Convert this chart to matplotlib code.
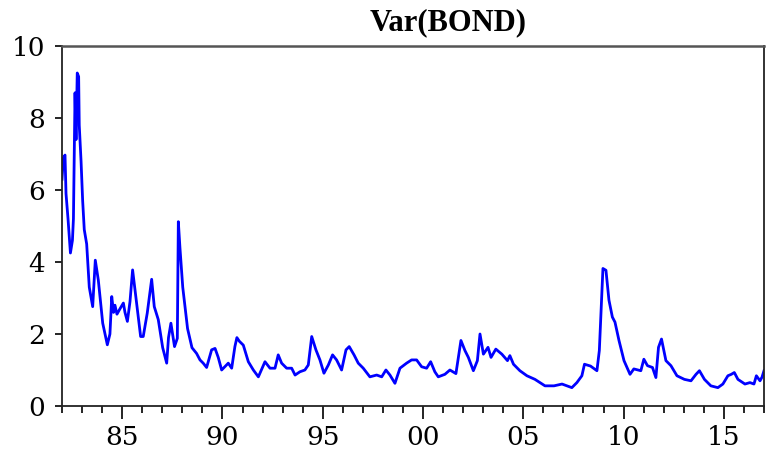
import matplotlib
matplotlib.use("Agg")
import matplotlib.pyplot as plt
from matplotlib.ticker import MultipleLocator, FixedLocator

title = "Var(BOND)"

years = [
    1982.00, 1982.07, 1982.15, 1982.20, 1982.30, 1982.42, 1982.52, 1982.57, 1982.65, 1982.70,
    1982.76, 1982.83, 1982.86, 1982.95, 1983.03, 1983.11, 1983.23, 1983.36, 1983.53, 1983.66,
    1983.81, 1984.03, 1984.26, 1984.39, 1984.48, 1984.57, 1984.64, 1984.74, 1984.89, 1985.06,
    1985.14, 1985.26, 1985.39, 1985.52, 1985.69, 1985.92, 1986.05, 1986.25, 1986.47, 1986.60,
    1986.80, 1987.02, 1987.22, 1987.31, 1987.43, 1987.61, 1987.75, 1987.80, 1987.88, 1988.02,
    1988.26, 1988.48, 1988.71, 1988.88, 1989.04, 1989.21, 1989.46, 1989.63, 1989.79, 1989.96,
    1990.29, 1990.46, 1990.62, 1990.72, 1990.84, 1991.04, 1991.29, 1991.54, 1991.79, 1992.12,
    1992.37, 1992.62, 1992.78, 1992.95, 1993.20, 1993.45, 1993.62, 1993.86, 1994.11, 1994.28,
    1994.45, 1994.66, 1994.86, 1995.06, 1995.28, 1995.49, 1995.69, 1995.94, 1996.16, 1996.32,
    1996.56, 1996.77, 1997.02, 1997.35, 1997.69, 1997.94, 1998.15, 1998.35, 1998.60, 1998.85,
    1999.18, 1999.43, 1999.68, 1999.93, 2000.18, 2000.38, 2000.59, 2000.76, 2001.09, 2001.34,
    2001.64, 2001.89, 2002.09, 2002.26, 2002.51, 2002.71, 2002.84, 2003.01, 2003.24, 2003.39,
    2003.63, 2003.93, 2004.21, 2004.33, 2004.51, 2004.83, 2005.18, 2005.58, 2006.08, 2006.53,
    2006.93, 2007.42, 2007.67, 2007.92, 2008.05, 2008.35, 2008.67, 2008.79, 2008.97, 2009.12,
    2009.27, 2009.44, 2009.57, 2009.77, 2010.02, 2010.32, 2010.51, 2010.86, 2011.01, 2011.19,
    2011.44, 2011.61, 2011.74, 2011.89, 2012.11, 2012.36, 2012.66, 2013.03, 2013.36, 2013.61,
    2013.78, 2014.03, 2014.35, 2014.70, 2014.95, 2015.20, 2015.37, 2015.52, 2015.70, 2016.05,
    2016.30, 2016.50, 2016.62, 2016.80, 2016.90, 2017.00,
]

var_bond = [
    6.3, 6.9, 6.97, 5.9, 5.2, 4.25, 4.6, 5.2, 8.7, 7.4,
    9.25, 9.15, 7.8, 6.8, 5.7, 4.9, 4.5, 3.3, 2.76, 4.05,
    3.5, 2.3, 1.7, 2.0, 3.04, 2.6, 2.8, 2.55, 2.7, 2.86,
    2.6, 2.35, 2.9, 3.78, 3.0, 1.93, 1.93, 2.58, 3.52, 2.76,
    2.4, 1.62, 1.19, 1.9, 2.3, 1.65, 1.88, 5.12, 4.4, 3.3,
    2.15, 1.62, 1.46, 1.28, 1.19, 1.07, 1.56, 1.6, 1.35, 1.0,
    1.19, 1.05, 1.65, 1.9, 1.8, 1.69, 1.23, 1.0, 0.81, 1.23,
    1.05, 1.05, 1.42, 1.19, 1.05, 1.05, 0.86, 0.95, 1.0, 1.14,
    1.93, 1.56, 1.28, 0.91, 1.14, 1.42, 1.28, 1.0, 1.56, 1.65,
    1.42, 1.19, 1.05, 0.81, 0.86, 0.81, 1.0, 0.86, 0.63, 1.05,
    1.19, 1.28, 1.28, 1.09, 1.05, 1.23, 0.95, 0.81, 0.88, 1.0,
    0.9, 1.82, 1.54, 1.35, 0.98, 1.26, 2.0, 1.44, 1.63, 1.35,
    1.58, 1.44, 1.26, 1.40, 1.16, 0.98, 0.84, 0.74, 0.56, 0.56,
    0.61, 0.51, 0.65, 0.84, 1.16, 1.11, 0.98, 1.54, 3.82, 3.77,
    2.94, 2.47, 2.33, 1.82, 1.26, 0.88, 1.03, 0.98, 1.3, 1.12,
    1.07, 0.79, 1.63, 1.86, 1.26, 1.12, 0.84, 0.74, 0.70, 0.88,
    0.98, 0.74, 0.56, 0.51, 0.61, 0.84, 0.88, 0.93, 0.74, 0.61,
    0.65, 0.61, 0.84, 0.70, 0.8, 0.98,
]

xtick_years = [1985, 1990, 1995, 2000, 2005, 2010, 2015]
xtick_labels = ["85", "90", "95", "00", "05", "10", "15"]
ytick_values = [0, 2, 4, 6, 8, 10]

fig = plt.figure(figsize=(7.69, 4.5), dpi=100)
ax = fig.add_axes([62/769, 1 - 406/450, (764 - 62)/769, (406 - 46)/450])

ax.plot(years, var_bond, color="#0000FF", linewidth=2.0)

ax.set_xlim(1982.0, 2017.0)
ax.set_ylim(0, 10)
ax.xaxis.set_major_locator(FixedLocator(xtick_years))
ax.set_xticklabels(xtick_labels)
ax.xaxis.set_minor_locator(MultipleLocator(1))
ax.set_yticks(ytick_values)

font = "DejaVu Serif"
for lab in ax.get_xticklabels() + ax.get_yticklabels():
    lab.set_family(font)
    lab.set_fontsize(19)

ax.tick_params(axis="x", which="major", direction="out", length=9, width=1.2, pad=5)
ax.tick_params(axis="x", which="minor", direction="out", length=5, width=1.2)
ax.tick_params(axis="y", which="major", direction="out", length=5, width=1.2, pad=7)
for s in ax.spines.values():
    s.set_linewidth(1.3)
    s.set_color("#222222")
ax.spines["top"].set_linewidth(1.8)
ax.spines["top"].set_color("#555555")

fig.text(448/769, 1 - 23/450, title, fontsize=22, fontweight="bold",
         family="Liberation Serif", ha="center", va="center")

fig.savefig("out.png", dpi=100)
